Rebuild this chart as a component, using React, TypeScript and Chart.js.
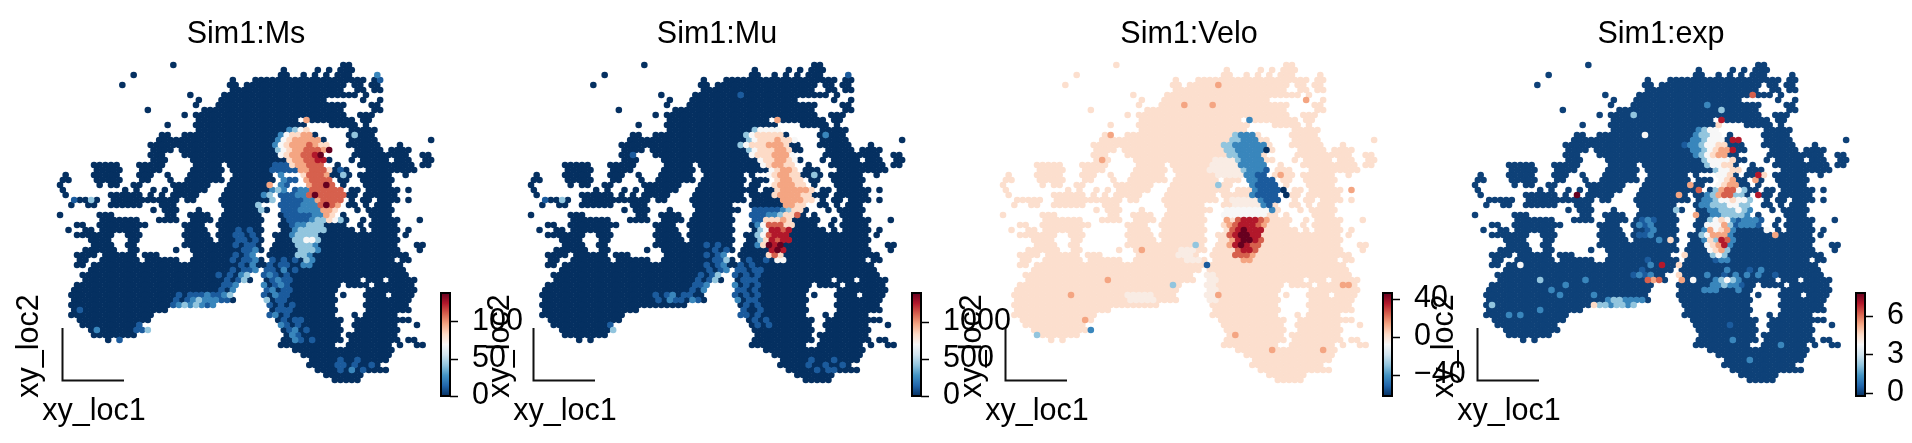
import React, { useEffect, useRef } from "react";
import { Chart, registerables } from "chart.js";
Chart.register(...registerables);

const FONT = "'Liberation Sans', Arial, sans-serif";

// Occupied spots per lattice row: pairs of first,last column.
const spotRuns: number[][] = [
  [20,20,50,51],
  [39,39,45,45,47,47,49,51],
  [13,13,39,40,43,43,45,45,47,47,49,51,56,56],
  [30,30,34,45,46,53,55,56],
  [11,11,30,31,33,45,46,50,52,53,55,56],
  [30,32,33,45,46,49,52,53,55,56],
  [23,23,29,45,46,49,50,52,54,54],
  [24,24,28,46,53,53,56,56],
  [24,24,28,48,49,50,55,56],
  [15,15,25,39,40,48,49,49,55,56],
  [22,22,24,41,42,50,53,54,55,55],
  [24,41,43,43,44,51,53,53,54,54],
  [19,19,24,42,43,43,48,52,54,54],
  [24,42,51,55],
  [18,19,22,43,45,45,51,55],
  [17,19,20,45,46,46,51,55,65,65],
  [16,19,20,47,51,56,60,60],
  [16,19,21,47,52,56,58,61],
  [16,18,22,46,52,57,58,61,64,65],
  [16,18,23,46,47,47,51,51,53,57,59,61,64,65],
  [6,10,14,18,24,28,30,46,49,49,53,58,59,62,64,65],
  [6,10,14,17,23,28,30,46,48,50,54,58,59,62],
  [1,1,6,10,14,16,19,19,23,28,31,37,39,39,43,46,48,51,53,53,54,58,61,61],
  [0,1,6,10,14,15,19,19,22,28,30,37,39,41,43,47,49,50,53,53,54,58],
  [0,0,7,7,9,10,13,14,20,21,22,26,30,36,37,37,39,40,44,48,50,50,54,54,55,58],
  [0,0,11,11,13,13,16,16,18,18,20,21,22,25,29,36,37,38,39,39,41,43,44,49,51,52,54,54,55,58,59,59,61,61],
  [1,1,9,14,16,16,18,18,20,21,22,23,24,24,29,35,36,37,39,47,48,48,50,50,51,52,54,54,55,58,59,59],
  [2,6,9,18,19,20,22,23,28,36,37,37,39,47,51,51,53,54,56,58,59,59,61,61],
  [2,2,5,6,9,14,18,20,29,35,39,47,48,48,51,52,54,54,56,58],
  [16,16,18,20,24,24,29,36,39,48,52,52,54,54,55,58],
  [0,0,7,9,19,20,23,26,29,35,39,48,50,50,55,58],
  [7,11,12,13,17,20,23,26,28,35,39,49,50,50,53,53,55,59,63,63],
  [3,4,7,12,13,15,22,25,28,35,39,50,53,53,55,59],
  [1,1,4,5,7,11,12,13,22,25,28,35,39,51,53,53,55,59,61,61],
  [3,9,12,14,22,23,24,26,28,35,38,54,55,59,61,61],
  [5,8,12,13,22,22,23,26,28,35,38,59],
  [6,9,12,13,22,22,23,35,38,59,63,64],
  [4,6,7,9,12,13,20,20,23,24,25,35,37,59,63,63],
  [3,6,8,8,9,13,15,17,24,34,37,58,59,61],
  [3,4,7,13,15,17,18,20,23,35,37,58,60,61],
  [3,4,6,35,36,59,60,60],
  [5,34,36,60],
  [4,33,36,61],
  [4,33,36,52,54,56,58,62],
  [3,31,36,49,51,51,52,54,56,62],
  [2,30,36,48,54,59,60,62],
  [2,30,36,48,50,50,54,57,59,62],
  [2,30,36,48,54,57,58,61],
  [2,27,37,48,54,57,58,61],
  [2,18,37,42,43,48,54,57,58,61],
  [2,16,37,42,43,48,52,52,54,56,57,59],
  [3,15,38,49,52,53,54,56,57,59,60,61],
  [4,14,39,49,52,56,56,59,63,63],
  [5,14,39,49,52,55,56,59],
  [6,13,40,49,51,55,56,59],
  [8,8,10,10,39,49,51,58,59,59,61,62],
  [39,48,51,58,60,60,63,64],
  [41,58],
  [43,58],
  [44,57],
  [44,56],
  [45,56,57,57],
  [47,53],
  [48,52],
];

type Patch = [number, number, string];

// Value class per spot: characters of levelKeys, lowest to highest, with shares of the colour range.
const levelKeys = "0123456789a";
const levelShare = [0, 0.08, 0.17, 0.3, 0.5, 0.6, 0.7, 0.8, 0.9, 1, 0.54];

const msPatches: Patch[] = [
  [2,56,"2"],[3,56,"1"],[11,43,"6"],[14,52,"3"],[22,50,"3"],[21,49,"1"],[26,50,"7"],[27,5,"3"],[27,2,"1"],
  [13,40,"2345"],[14,39,"245566"],[15,38,"24566666"],[16,38,"2456667655"],[17,38,"3456677769"],
  [18,39,"45667789"],[19,40,"5667788"],[20,41,"566777"],[21,42,"667775"],[22,43,"57776"],[23,43,"67777"],
  [24,44,"67797"],[25,44,"777777"],[26,44,"797777"],[27,45,"67777"],[28,46,"7976"],[29,46,"665"],[30,47,"65"],[31,47,"543"],
  [30,40,"1111122"],[31,40,"1111233"],[32,41,"122333"],[33,41,"233333"],[34,41,"23333"],[35,41,"33443"],
  [36,42,"3332"],[37,42,"3332"],[38,42,"332"],[39,43,"32"],[40,43,"22"],
  [20,38,"111"],[21,37,"11111"],[22,39,"2"],[23,39,"211"],[24,37,"6"],[24,39,"21"],[25,37,"23"],[25,39,"2"],[25,41,"122"],
  [26,36,"23"],[26,39,"11122"],[27,37,"3"],[27,39,"111122"],[28,35,"3"],[28,39,"1111222"],[29,35,"3"],[29,39,"1112222"],
  [33,31,"101"],[34,30,"01101"],[35,31,"1101"],[36,31,"1011"],[37,31,"0112"],[38,30,"01012"],[39,30,"10112"],[40,30,"00102"],
  [41,29,"010112"],[42,28,"101023"],[43,29,"1013"],[44,28,"0112"],[45,28,"102"],[46,28,"123"],
  [46,20,"01011121"],[47,19,"01012322211"],[48,20,"12323212"],[52,13,"01"],[53,13,"113"],[53,6,"2"],[49,3,"10"],[55,10,"1"],
  [39,37,"10101"],[40,36,"010110"],[41,36,"110201"],[42,36,"121010"],[43,36,"012110"],[44,36,"201210"],[45,36,"12011"],
  [46,36,"102110"],[47,36,"3011"],[48,37,"10101"],[49,37,"01110"],[50,37,"12010"],[51,39,"1011"],[52,39,"2101"],[53,40,"1201"],
  [54,40,"0210"],[55,41,"21010"],[59,47,"00100100"],[60,47,"001101001"],[61,49,"10201"],
];

const muPatches: Patch[] = [
  [2,56,"1"],[11,43,"6"],[14,52,"2"],[22,50,"3"],[6,37,"1"],[27,2,"1"],[27,5,"3"],[18,18,"1"],
  [13,39,"34444"],[14,38,"3455555"],[15,38,"345556554"],[16,37,"345556665"],[17,38,"34555665"],[18,39,"45556664"],
  [19,40,"4556654"],[20,41,"456655"],[21,42,"45665"],[22,42,"456655"],[23,43,"56655"],[24,43,"566655"],[25,43,"5666665"],
  [26,43,"5666655"],[27,44,"666655"],[28,45,"6655"],[29,46,"55"],[30,44,"3557"],
  [31,41,"55565"],[32,41,"477755"],[33,41,"48878"],[34,41,"47888"],[35,41,"58788"],[36,41,"5989"],[37,42,"898"],[38,42,"575"],[39,43,"44"],
  [31,39,"11"],[32,40,"2"],[33,40,"3"],[34,40,"3"],[35,40,"3"],[36,40,"2"],[29,39,"1111123"],[30,39,"11122"],
  [36,31,"101"],[37,31,"0101"],[38,31,"1012"],[39,31,"0113"],[40,31,"1012"],[41,30,"01012"],[42,29,"01013"],[43,29,"1013"],
  [44,28,"0112"],[45,28,"102"],[46,21,"01012011"],[47,22,"10211021"],[52,13,"01"],[53,14,"3"],
  [39,37,"01001"],[40,36,"010100"],[41,36,"110110"],[42,36,"101010"],[43,36,"011100"],[44,36,"201010"],[45,36,"11010"],
  [46,36,"101010"],[47,36,"2011"],[48,37,"01010"],[49,37,"10010"],[50,37,"11010"],[51,39,"1010"],[52,39,"0101"],
  [59,47,"00100010"],[60,47,"001001001"],[61,49,"01011"],
];

const veloPatches: Patch[] = [
  [14,41,"3222"],[15,40,"33222"],[16,39,"33222222"],[17,39,"33222220"],[18,40,"332222"],[19,41,"32222"],[20,42,"22222"],
  [21,42,"32221"],[22,43,"2211"],[23,43,"22111"],[24,44,"21111"],[25,44,"211110"],[26,44,"21111"],[26,50,"0"],[27,45,"2111"],
  [28,46,"21"],[29,47,"2"],
  [19,37,"aaaa"],[20,37,"aaaaa"],[21,36,"aaaaaa"],[22,38,"aaaaa"],
  [27,40,"aaaaa"],[28,41,"aaaaa"],[29,39,"44444444"],[30,39,"44444444"],
  [31,39,"6"],[31,41,"78887"],[31,46,"6"],[32,39,"56788876"],[33,40,"789888"],[34,40,"789988"],[35,40,"689987"],[36,40,"689877"],
  [37,41,"7887"],[38,41,"7776"],[39,42,"66"],
  [4,38,"6"],[8,32,"6"],[8,37,"6"],[14,19,"6"],[19,17,"6"],[7,53,"6"],[25,61,"6"],[44,60,"6"],[44,61,"6"],[46,38,"6"],[43,18,"6"],
  [46,12,"6"],[51,14,"6"],[54,41,"6"],[57,47,"6"],[57,56,"6"],[37,24,"6"],[22,49,"6"],
  [40,36,"1"],[44,30,"3"],[53,15,"2"],[54,6,"3"],[11,43,"2"],[24,38,"3"],[36,34,"3"],
  [37,31,"aaa"],[38,31,"aaa"],[39,32,"aaa"],[46,22,"aaaaa"],[47,22,"aaaaa"],
  [42,36,"aa"],[43,36,"aa"],[44,36,"aa"],[45,36,"aa"],[46,36,"aa"],[47,36,"aa"],
];

const expPatches: Patch[] = [
  [13,39,"2344"],[14,39,"23344"],[15,38,"223444"],[15,45,"88"],[16,37,"12234455"],[17,38,"2234566"],[17,45,"8"],[18,39,"234566"],
  [19,40,"344445"],[20,41,"34455"],[21,42,"34455"],[22,43,"445"],[23,43,"456"],[24,43,"4566"],[25,42,"367743"],[26,41,"2367733"],
  [27,40,"223445443"],[28,40,"223334433"],[29,41,"22333432"],[30,42,"2233332"],
  [31,41,"34542"],[31,46,"12221"],[32,41,"44463"],[32,46,"12221"],[33,40,"264562"],[34,40,"346662"],[35,40,"253872"],[36,41,"45682"],
  [37,41,"4563"],[38,42,"343"],[39,42,"122"],
  [11,43,"8"],[12,43,"5"],[6,49,"7"],[22,50,"85"],[26,50,"8"],[23,49,"6"],[26,18,"9"],[26,36,"6"],[24,38,"6"],[25,39,"7"],[30,39,"6"],[34,53,"6"],
  [40,33,"8"],[43,30,"7"],[43,32,"7"],[43,31,"6"],[38,37,"5"],[35,34,"5"],[40,36,"5"],[43,36,"6"],[42,36,"5"],[44,44,"6"],[48,21,"5"],
  [14,30,"4"],[40,8,"4"],[43,11,"3"],[48,3,"3"],[29,35,"3"],[10,28,"3"],[33,51,"4"],[9,43,"3"],[8,41,"2"],[59,48,"2"],[55,45,"2"],[56,54,"2"],[52,45,"1"],
  [47,23,"2332222"],[48,22,"3323323"],
  [31,29,"121"],[32,29,"212"],[33,30,"12"],[34,29,"112"],[35,32,"2"],[39,30,"1"],[40,31,"2"],[41,29,"1"],[42,28,"1212"],
  [41,44,"2"],[41,48,"1"],[41,50,"2"],[42,41,"2"],[42,44,"1"],[42,46,"2"],[42,48,"2"],[42,50,"2"],[42,53,"1"],
  [43,38,"4"],[43,42,"23432"],[44,42,"223221"],[45,40,"222"],[45,46,"2"],
  [45,13,"2"],[44,16,"2"],[43,19,"2"],[46,15,"2"],[46,21,"2"],[50,6,"2"],[50,8,"2"],[49,11,"2"],
];

const panelTitles = ["Sim1:Ms", "Sim1:Mu", "Sim1:Velo", "Sim1:exp"];
const panelPatches = [msPatches, muPatches, veloPatches, expPatches];
const panelMin = [0, 0, -62, -0.25];
const panelMax = [137.7, 1390, 46, 7.77];
const panelUsual = [0, 0, 1.2, 0];
const panelTicks = [[0, 50, 100], [0, 500, 1000], [-40, 0, 40], [0, 3, 6]];
const panelLeft = [0, 471, 942.5, 1415];

const rdBuR = ["#053061","#2166ac","#4393c3","#92c5de","#d1e5f0","#f7f7f7","#fddbc7","#f4a582","#d6604d","#b2182b","#67001f"];

function hexRgb(h: string) {
  return [1, 3, 5].map((i) => parseInt(h.slice(i, i + 2), 16));
}
function cmap(t: number) {
  const u = Math.max(0, Math.min(1, t)) * (rdBuR.length - 1);
  const i = Math.min(rdBuR.length - 2, Math.floor(u));
  const a = hexRgb(rdBuR[i]), b = hexRgb(rdBuR[i + 1]);
  const f = u - i;
  return `rgb(${a.map((v, k) => Math.round(v + (b[k] - v) * f)).join(",")})`;
}

function panelSpots(idx: number) {
  const lo = panelMin[idx], hi = panelMax[idx], usual = panelUsual[idx];
  const m = new Map<string, { r: number; c: number; v: number }>();
  spotRuns.forEach((runs, r) => {
    for (let k = 0; k < runs.length; k += 2)
      for (let c = runs[k]; c <= runs[k + 1]; c++) m.set(r + "," + c, { r, c, v: usual });
  });
  panelPatches[idx].forEach(([r, c0, s]) => {
    [...s].forEach((ch, i) => {
      const c = c0 + i;
      m.set(r + "," + c, { r, c, v: lo + levelShare[levelKeys.indexOf(ch)] * (hi - lo) });
    });
  });
  const arr = [...m.values()];
  arr.sort((a, b) => Math.abs(a.v - usual) - Math.abs(b.v - usual));
  return arr;
}

const axisArrows = {
  id: "axisArrows",
  afterDraw(chart: any) {
    const { ctx, chartArea: a } = chart;
    ctx.save();
    ctx.strokeStyle = "#111";
    ctx.lineWidth = 2;
    ctx.beginPath();
    ctx.moveTo(a.left + 0.5, a.bottom - 52);
    ctx.lineTo(a.left + 0.5, a.bottom + 0.5);
    ctx.lineTo(a.left + 62, a.bottom + 0.5);
    ctx.stroke();
    ctx.fillStyle = "#000";
    ctx.font = `30.5px ${FONT}`;
    ctx.textAlign = "center";
    ctx.textBaseline = "alphabetic";
    ctx.fillText("xy_loc1", a.left + 32, a.bottom + 40);
    ctx.translate(a.left - 24, a.bottom - 34);
    ctx.rotate(-Math.PI / 2);
    ctx.fillText("xy_loc2", 0, 0);
    ctx.restore();
  },
};

const barFill = {
  id: "barFill",
  beforeDatasetsDraw(chart: any) {
    const { ctx, chartArea: a } = chart;
    const g = ctx.createLinearGradient(0, a.bottom, 0, a.top);
    rdBuR.forEach((c, i) => g.addColorStop(i / (rdBuR.length - 1), c));
    ctx.save();
    ctx.fillStyle = g;
    ctx.fillRect(a.left, a.top, a.right - a.left, a.bottom - a.top);
    ctx.strokeStyle = "#000";
    ctx.lineWidth = 2;
    ctx.strokeRect(a.left, a.top, a.right - a.left, a.bottom - a.top);
    ctx.restore();
  },
};

function Panel({ idx }: { idx: number }) {
  const mapRef = useRef<HTMLCanvasElement>(null);
  const barRef = useRef<HTMLCanvasElement>(null);
  useEffect(() => {
    const spots = panelSpots(idx);
    const lo = panelMin[idx], hi = panelMax[idx];
    const map = new Chart(mapRef.current!, {
      type: "scatter",
      data: {
        datasets: [{
          data: spots.map((s) => ({ x: s.c + (s.r % 2 ? 0.5 : 0), y: s.r })),
          backgroundColor: spots.map((s) => cmap((s.v - lo) / (hi - lo))),
          borderWidth: 0,
          pointRadius: 3.3,
          clip: false,
        }],
      } as any,
      options: {
        animation: false, responsive: false, devicePixelRatio: 1, events: [],
        layout: { padding: { left: 62, right: 62, top: 0, bottom: 63 } },
        plugins: {
          legend: { display: false }, tooltip: { enabled: false },
          title: { display: true, text: panelTitles[idx], color: "#000", font: { family: FONT, size: 30.5, weight: "normal" }, padding: { top: 16, bottom: 12.4 } },
        },
        scales: {
          x: { display: false, min: 0.35, max: 65.3 },
          y: { display: false, min: 0, max: 63, reverse: true },
        },
      } as any,
      plugins: [axisArrows],
    });
    const bar = new Chart(barRef.current!, {
      type: "scatter",
      data: { datasets: [] },
      options: {
        animation: false, responsive: false, devicePixelRatio: 1, events: [],
        layout: { padding: { left: 10, right: 0, top: 43, bottom: 47 } },
        plugins: { legend: { display: false }, tooltip: { enabled: false } },
        scales: {
          x: { display: false },
          y: {
            position: "right", min: lo, max: hi,
            afterBuildTicks: (s: any) => { s.ticks = panelTicks[idx].map((value) => ({ value })); },
            afterFit: (s: any) => { s.width = 101; s.paddingTop = 0; s.paddingBottom = 0; },
            grid: { display: false },
            border: { display: false },
            ticks: {
              color: "#000", padding: 14, autoSkip: false, maxRotation: 0, font: { family: FONT, size: 30.5 },
              callback: (v: any) => String(v).replace("-", "\u2212"),
            },
          },
        },
      } as any,
      plugins: [barFill, {
        id: "barTicks",
        afterDraw(chart: any) {
          const { ctx, chartArea: a, scales } = chart;
          ctx.save();
          ctx.strokeStyle = "#000";
          ctx.lineWidth = 1.5;
          panelTicks[idx].forEach((t) => {
            const y = Math.round(scales.y.getPixelForValue(t)) + 0.5;
            ctx.beginPath();
            ctx.moveTo(a.right, y);
            ctx.lineTo(a.right + 8, y);
            ctx.stroke();
          });
          ctx.restore();
        },
      }],
    });
    return () => { map.destroy(); bar.destroy(); };
  }, [idx]);
  const left = panelLeft[idx];
  const barLeft = left + 440.5 - 10;
  return (
    <>
      <canvas ref={mapRef} width={492} height={443} style={{ position: "absolute", left, top: 0, display: "block" }} />
      <canvas ref={barRef} width={120} height={193} style={{ position: "absolute", left: barLeft, top: 250, display: "block" }} />
    </>
  );
}

export default function App() {
  return (
    <div style={{ position: "absolute", left: 0, top: 0, width: 1912, height: 443, overflow: "hidden", background: "#fff" }}>
      {panelTitles.map((_, i) => <Panel key={i} idx={i} />)}
    </div>
  );
}
